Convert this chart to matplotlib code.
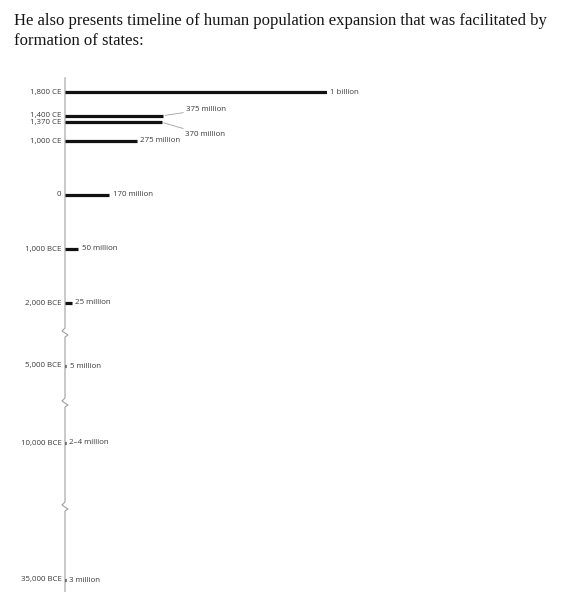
import numpy as np
import matplotlib
matplotlib.use("Agg")
import matplotlib.pyplot as plt
import matplotlib.transforms as mtransforms

# data
periods = ["1,800 CE", "1,400 CE", "1,370 CE", "1,000 CE", "0",
           "1,000 BCE", "2,000 BCE", "5,000 BCE", "10,000 BCE", "35,000 BCE"]
years = [1800, 1400, 1370, 1000, 0, -1000, -2000, -5000, -10000, -35000]
population = [1000, 375, 370, 275, 170, 50, 25, 5, 3, 3]  # millions (2-4 -> 3)
pop_labels = ["1 billion", "375 million", "370 million", "275 million",
              "170 million", "50 million", "25 million", "5 million",
              "2\u20134 million", "3 million"]
break_years = [-3500, -7500, -22500]

title_lines = ["He also presents timeline of human population expansion that was facilitated by",
               "formation of states:"]

# broken time axis: year -> pixel row of the original chart
scale_years = np.array([-38000, -35000, -22500, -10000, -7500, -5000, -3500,
                        -2000, -1000, 0, 1000, 1370, 1400, 1800, 3200])
scale_px = np.array([592, 580, 506, 443, 402, 366, 332,
                     303, 249, 195, 141, 122.3, 115.7, 92.3, 0])


def fwd(y):
    return -np.interp(y, scale_years, scale_px)


def inv(v):
    return np.interp(-v, scale_px[::-1], scale_years[::-1])


W, H = 562, 592
fig = plt.figure(figsize=(W / 100, H / 100), dpi=100)
ax = fig.add_axes([65 / W, 0, (326.7 - 65) / W, 1])
ax.set_yscale("function", functions=(fwd, inv))
ax.set_xlim(0, 1000)
ax.set_ylim(-38000, 3200)
ax.axis("off")

label_font = dict(family=["Open Sans", "DejaVu Sans"], size=5.7, color="#3a3a3a")
axis_col = "#a0a0a0"
px = 72 / 100  # points per pixel

# vertical time axis with zigzag breaks, built in display pixels
x0, y_top = ax.transData.transform((0, 2020))
_, y_bot = ax.transData.transform((0, -38000))
xs, ys = [x0], [y_top]
for by in break_years:
    _, yb = ax.transData.transform((0, by))
    xs += [x0, x0 - 3, x0 + 3, x0]
    ys += [yb + 4, yb + 1, yb - 3, yb - 5]
xs.append(x0)
ys.append(y_bot - 2)
ax.plot(xs, ys, color=axis_col, lw=0.8, transform=mtransforms.IdentityTransform(),
        zorder=1, clip_on=False)

# bars
ax.hlines(years, 0, population, color="#111111", lw=3.2 * px, capstyle="butt", zorder=4)

for yr, per, pop, lab in zip(years, periods, population, pop_labels):
    ax.annotate(per, xy=(0, yr), xytext=(-3.5 * px, 0), textcoords="offset points",
                ha="right", va="center", annotation_clip=False, **label_font)
    if lab == "375 million":
        ax.annotate(lab, xy=(pop, yr), xytext=(23 * px, 6.5 * px), textcoords="offset points",
                    ha="left", va="center", annotation_clip=False,
                    arrowprops=dict(arrowstyle="-", color=axis_col, lw=0.6,
                                    shrinkA=0, shrinkB=1.5),
                    **label_font)
    elif lab == "370 million":
        ax.annotate(lab, xy=(pop, yr), xytext=(23 * px, -12.5 * px), textcoords="offset points",
                    ha="left", va="center", annotation_clip=False,
                    arrowprops=dict(arrowstyle="-", color=axis_col, lw=0.6,
                                    shrinkA=0, shrinkB=1.5),
                    **label_font)
    else:
        ax.annotate(lab, xy=(pop, yr), xytext=(3.5 * px, 0), textcoords="offset points",
                    ha="left", va="center", annotation_clip=False, **label_font)

# header text above the chart
for i, line in enumerate(title_lines):
    fig.text(14 / W, 1 - (25 + 20 * i) / H, line, ha="left", va="baseline",
             family=["Liberation Serif", "DejaVu Serif"], size=12.0, color="#151515")

fig.savefig("out.png", dpi=100)
